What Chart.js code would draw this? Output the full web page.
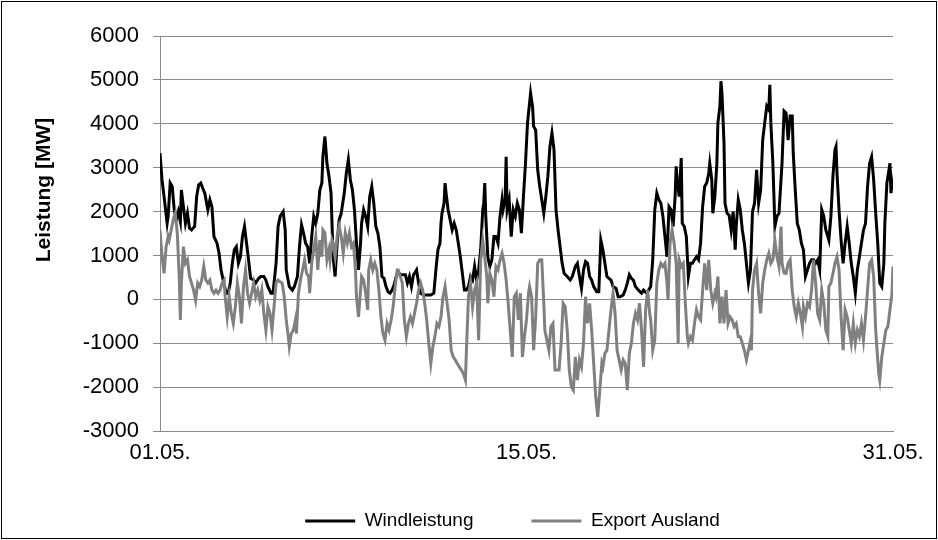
<!DOCTYPE html>
<html>
<head>
<meta charset="utf-8">
<script src="https://cdn.jsdelivr.net/npm/chart.js@4.4.1/dist/chart.umd.min.js"></script>
<style>
    html, body { margin: 0; padding: 0; background: #fff; }
    #wrap { width: 938px; height: 540px; }
</style>
</head>
<body>
<div id="wrap"><canvas id="windChart" width="938" height="540"></canvas></div>
<script>
// hours since 01.05. 00:00 and power in MW
const windHours = [0, 2, 4, 7, 8, 10, 12, 14, 16, 18, 20, 21, 23, 25, 27, 29, 31, 34, 36, 38, 40, 42, 44, 47, 49, 51, 53, 56, 58, 60,
    62, 65, 67, 69, 71, 73, 75, 77, 79, 81, 83, 85, 87, 89, 92, 94, 97, 99, 102, 104, 106, 109, 111, 114, 116, 118, 121, 123, 124, 127,
    130, 132, 135, 137, 139, 141, 143, 145, 147, 149, 151, 153, 155, 157, 159, 160, 162, 164, 166, 168, 170, 172, 174, 176, 178, 180, 181, 183, 185, 187,
    189, 191, 193, 195, 197, 198, 200, 202, 204, 206, 208, 210, 212, 214, 216, 218, 220, 222, 224, 226, 228, 230, 232, 234, 236, 239, 241, 243, 245, 247,
    249, 250, 252, 254, 256, 259, 261, 264, 266, 269, 271, 273, 275, 276, 277, 279, 280, 281, 283, 285, 287, 289, 291, 293, 295, 297, 299, 301, 303, 305,
    307, 309, 311, 313, 315, 317, 318, 319, 320, 322, 324, 326, 328, 330, 332, 334, 336, 337, 339, 340, 341, 343, 345, 347, 349, 351, 353, 355, 357, 359,
    361, 363, 364, 366, 367, 369, 371, 373, 375, 377, 379, 381, 383, 385, 387, 389, 391, 393, 395, 397, 400, 403, 405, 408, 410, 412, 414, 416, 418, 420,
    422, 424, 426, 429, 431, 433, 435, 437, 439, 441, 443, 445, 448, 450, 452, 455, 457, 459, 461, 463, 465, 467, 470, 473, 475, 478, 480, 482, 484, 486,
    488, 490, 492, 494, 496, 498, 500, 502, 504, 506, 507, 508, 510, 512, 513, 515, 517, 519, 521, 523, 525, 527, 529, 531, 533, 535, 537, 539, 540, 542,
    543, 545, 547, 548, 550, 551, 552, 554, 555, 557, 559, 561, 563, 565, 566, 568, 570, 572, 574, 576, 578, 580, 582, 584, 586, 588, 590, 592, 594, 596,
    598, 599, 600, 602, 604, 606, 608, 609, 611, 613, 615, 617, 619, 621, 622, 624, 626, 628, 630, 632, 634, 636, 638, 640, 642, 644, 646, 648, 650, 652,
    654, 656, 657, 659, 661, 663, 664, 665, 667, 669, 671, 673, 675, 677, 679, 681, 683, 685, 687, 689, 691, 693, 695, 697, 699, 701, 703, 705, 707, 709,
    711, 712, 714, 716, 717, 718, 719, 720];
const windMW = [3330, 2720, 2340, 1730, 1890, 2650, 2570, 2040, 1810, 2000, 1770, 2490, 2110, 1730, 1960, 1620, 1580, 1660, 2340, 2610, 2650, 2530, 2420, 2040, 2270, 2110, 1430, 1280, 1050, 670,
    440, 140, 140, 370, 820, 1130, 1200, 820, 970, 1430, 1660, 1280, 900, 480, 440, 370, 480, 520, 520, 440, 290, 140, 140, 820, 1660, 1890, 2000, 1580, 670, 290,
    210, 290, 520, 1200, 1700, 1510, 1280, 1200, 820, 1430, 1890, 1730, 1960, 2490, 2650, 3250, 3710, 3100, 2800, 2420, 970, 520, 1280, 1810, 1960, 2270, 2420, 2870, 3180, 2720,
    2490, 2040, 1280, 670, 1280, 1730, 2040, 1890, 1660, 2340, 2570, 2190, 1660, 1510, 1200, 520, 480, 290, 170, 140, 210, 330, 520, 630, 560, 560, 560, 370, 520, 290,
    560, 590, 670, 370, 140, 100, 100, 100, 100, 140, 670, 1130, 1280, 1730, 1960, 2190, 2650, 2420, 2040, 1810, 1580, 1730, 1580, 1280, 970, 590, 210, 210, 290, 520,
    440, 750, 440, 670, 1130, 2040, 2190, 2650, 1890, 970, 750, 900, 1430, 1430, 1280, 1890, 2270, 2040, 2270, 3250, 2040, 2270, 1430, 2040, 1890, 2190, 2040, 1510, 2340, 3100,
    4020, 4470, 4700, 4380, 3940, 3860, 2950, 2570, 2270, 1960, 2340, 2800, 3480, 3790, 3410, 2040, 1580, 1200, 820, 590, 520, 440, 520, 750, 820, 520, 250, 670, 860, 820,
    520, 440, 290, 170, 170, 1350, 1130, 820, 520, 480, 440, 290, 250, 60, 60, 100, 210, 370, 560, 480, 440, 290, 210, 140, 210, 140, 210, 290, 900, 2040,
    2420, 2270, 2190, 1890, 1430, 970, 2110, 2040, 1660, 2340, 3030, 2720, 2340, 3220, 1730, 1660, 1430, 520, 820, 820, 900, 970, 900, 1280, 2110, 2570, 2650, 2870, 3100, 2720,
    1960, 2340, 3100, 4020, 4400, 4970, 4700, 3560, 2190, 1960, 1920, 1580, 2000, 1130, 1660, 2270, 2040, 1580, 1280, 820, 370, 670, 2000, 2190, 2950, 2190, 2490, 3630, 4020, 4400,
    4320, 4890, 4020, 3100, 1660, 1890, 1960, 2340, 3100, 4290, 4240, 3630, 4180, 4180, 3330, 2490, 1730, 1580, 1280, 1130, 520, 670, 820, 900, 900, 820, 900, 670, 2040, 1890,
    1580, 1430, 1350, 1890, 2800, 3410, 3480, 2870, 2040, 1350, 820, 1280, 1660, 1280, 820, 520, 140, 670, 970, 1280, 1580, 1730, 2570, 3100, 3250, 2720, 1960, 1280, 370, 290,
    820, 1730, 2650, 2950, 3100, 2420, 2650, 2490];

const exportHours = [0, 2, 4, 6, 8, 9, 11, 13, 15, 17, 19, 20, 21, 23, 25, 27, 29, 31, 33, 35, 37, 39, 41, 43, 45, 47, 49, 51, 53, 55,
    57, 59, 61, 63, 64, 66, 68, 70, 72, 74, 76, 78, 80, 82, 84, 86, 88, 90, 92, 94, 96, 98, 100, 102, 104, 106, 108, 110, 112, 114,
    116, 118, 120, 122, 124, 126, 127, 129, 131, 133, 134, 136, 138, 140, 142, 144, 146, 147, 149, 151, 153, 155, 157, 159, 160, 162, 164, 166, 167, 169,
    170, 172, 174, 176, 178, 180, 182, 184, 186, 188, 190, 192, 193, 195, 197, 198, 200, 202, 204, 205, 207, 209, 211, 213, 215, 217, 219, 221, 223, 225,
    227, 229, 231, 233, 234, 236, 238, 240, 242, 244, 246, 248, 250, 252, 254, 256, 258, 260, 262, 264, 266, 268, 270, 272, 274, 276, 278, 280, 282, 284,
    286, 288, 290, 292, 294, 296, 298, 300, 301, 303, 305, 307, 309, 311, 313, 315, 317, 319, 321, 322, 324, 326, 328, 330, 332, 334, 336, 338, 340, 342,
    344, 346, 348, 350, 352, 354, 356, 358, 360, 362, 363, 365, 367, 369, 371, 373, 375, 377, 378, 380, 382, 384, 386, 388, 390, 392, 394, 396, 398, 400,
    402, 404, 406, 408, 410, 412, 414, 416, 418, 420, 422, 424, 426, 428, 430, 432, 434, 435, 437, 439, 441, 443, 445, 447, 449, 451, 453, 455, 457, 459,
    461, 463, 465, 467, 469, 471, 473, 475, 477, 479, 481, 482, 484, 486, 488, 490, 492, 494, 496, 498, 499, 501, 503, 505, 507, 509, 510, 512, 514, 516,
    518, 519, 521, 523, 525, 527, 529, 531, 533, 535, 537, 539, 541, 543, 545, 546, 548, 550, 552, 554, 556, 558, 560, 562, 564, 566, 568, 570, 572, 574,
    576, 578, 580, 581, 582, 584, 586, 588, 590, 592, 594, 596, 598, 600, 602, 604, 606, 608, 610, 611, 613, 615, 617, 619, 621, 623, 625, 627, 629, 631,
    632, 634, 636, 638, 640, 642, 644, 646, 648, 650, 652, 654, 656, 657, 659, 661, 663, 665, 667, 669, 671, 673, 675, 677, 679, 681, 683, 685, 687, 689,
    691, 693, 695, 697, 699, 701, 703, 705, 706, 707, 709, 711, 713, 715, 717, 719, 720];
const exportMW = [1580, 970, 590, 1200, 1430, 1350, 1580, 1810, 1960, 1510, 440, -470, 370, 1200, 820, 900, 520, 370, 210, -20, 370, 290, 440, 750, 440, 370, 440, 210, 140, 210,
    140, 210, 370, 440, 60, -400, 60, -320, -550, -170, 370, 60, -550, 290, 670, 140, -90, 140, 370, 60, 210, -20, 210, -320, -700, -170, -320, -700, -170, 370,
    440, 400, 370, 60, -470, -850, -1080, -780, -700, -470, -780, 140, 440, 670, 900, 590, 520, 140, 820, 1130, 1430, 670, 1350, 970, 1580, 1510, 900, 1130, 900, 1350,
    1280, 970, 1430, 1660, 1430, 1050, 1510, 1280, 1510, 1200, 1280, 670, 60, -400, 210, 520, 440, 140, -240, 670, 900, 670, 820, 670, 210, -400, -780, -930, -550, -700,
    -470, -170, 290, 670, 670, 520, 370, -470, -850, -550, -400, -550, -320, -90, 210, 370, 210, -90, -470, -1000, -1460, -1080, -850, -550, -620, -400, 60, 290, -90, -470,
    -1160, -1310, -1380, -1460, -1540, -1610, -1690, -1840, -1160, 60, 370, -170, 210, 370, -930, 900, 1350, 970, 520, -90, 590, 440, 60, 750, 670, 900, 1050, 820, 440, -90,
    -700, -1310, 60, 140, -470, 140, -1310, -850, -470, 140, 290, 60, -1160, -400, 820, 900, 900, -90, -700, -930, -1160, -620, -550, -1610, -1610, -1610, -1000, -90, -170, -700,
    -1610, -1990, -2070, -1310, -1840, -1380, -1540, -1000, 60, -550, -90, -700, -1460, -2220, -2680, -2070, -1460, -1540, -1230, -1160, -700, -240, 140, -320, -1160, -1380, -1610, -1380, -1460, -2070,
    -1230, -1000, -550, -320, -470, -90, -700, -1540, -240, 210, -320, -470, -1160, -930, 370, 670, 820, 750, 820, 370, -20, 1280, 1580, 1280, 820, -1000, 900, 750, 820, -90,
    -850, -1000, -850, -930, -550, -240, -400, -470, 210, 820, 210, 900, 210, -90, 140, 60, 520, -550, 60, -550, 210, -550, -400, -470, -620, -550, -850, -850, -1000, -1160,
    -1380, -1160, -930, -1160, 210, 670, 820, 140, -320, 370, 670, 900, 1050, 820, 900, 1350, 970, 750, 1660, 820, 600, 590, 820, 900, 210, -170, -400, -90, -320, -620,
    -170, -400, -90, -170, 210, 900, 370, -320, -470, 210, -90, -700, -850, 290, 370, 590, 820, 970, 670, -400, -1160, -240, -400, -700, -1000, -550, -1000, -700, -850, -550,
    -930, -400, 210, 820, 900, 520, -700, -1380, -1690, -1840, -1310, -1000, -700, -620, -240, 140, 750];

const xTickLabels = ['01.05.', '15.05.', '31.05.'];
const seriesNames = ['Windleistung', 'Export Ausland'];
const yAxisTitle = 'Leistung [MW]';

const gridGray = '#8a8a8a';
const fontFamily = '"Liberation Sans", Arial, sans-serif';

function toPoints(hours, values) {
    return hours.map((h, i) => ({ x: h, y: values[i] }));
}

// white background and thin frame round the whole picture
const framePlugin = {
    id: 'framePlugin',
    beforeDraw(chart) {
        const c = chart.ctx;
        c.save();
        c.fillStyle = '#ffffff';
        c.fillRect(0, 0, chart.width, chart.height);
        c.restore();
    },
    afterDraw(chart) {
        const c = chart.ctx;
        c.save();
        c.strokeStyle = '#000000';
        c.lineWidth = 1;
        c.strokeRect(1.5, 1.5, chart.width - 3, chart.height - 3);
        c.restore();
    }
};

// the axis title in the original sits above the middle of the axis
const yTitlePlugin = {
    id: 'yTitlePlugin',
    afterDraw(chart) {
        const c = chart.ctx;
        c.save();
        c.translate(44, 190);
        c.rotate(-Math.PI / 2);
        c.font = 'bold 21px ' + fontFamily;
        c.fillStyle = '#000000';
        c.textAlign = 'center';
        c.textBaseline = 'middle';
        c.fillText(yAxisTitle, 0, 0);
        c.restore();
    }
};

// legend sits right of the canvas centre and a bit higher than chart.js puts it
const legendShift = {
    id: 'legendShift',
    afterLayout(chart) {
        chart.legend.left += 61;
        chart.legend.right += 61;
        chart.legend.top -= 10.5;
        chart.legend.bottom -= 10.5;
    }
};

const ctx = document.getElementById('windChart').getContext('2d');

const windChart = new Chart(ctx, {
    type: 'line',
    data: {
        datasets: [
            {
                label: seriesNames[0],
                data: toPoints(windHours, windMW),
                borderColor: '#000000',
                backgroundColor: '#000000',
                borderWidth: 3,
                pointRadius: 0,
                tension: 0,
                order: 1
            },
            {
                label: seriesNames[1],
                data: toPoints(exportHours, exportMW),
                borderColor: '#808080',
                backgroundColor: '#808080',
                borderWidth: 3,
                pointRadius: 0,
                tension: 0,
                order: 0
            }
        ]
    },
    options: {
        responsive: false,
        animation: false,
        devicePixelRatio: 1,
        layout: {
            padding: { top: 36, left: 10, right: 45, bottom: -11 }
        },
        scales: {
            x: {
                type: 'linear',
                min: 0,
                max: 720,
                grid: { display: false, drawTicks: false },
                border: { display: true, color: gridGray },
                ticks: {
                    stepSize: 360,
                    padding: 9,
                    maxRotation: 0,
                    color: '#000000',
                    font: { family: fontFamily, size: 22 },
                    callback: (value) => xTickLabels[value / 360]
                },
                afterFit(scale) {
                    scale.height = 33;
                }
            },
            y: {
                min: -3000,
                max: 6000,
                grid: { color: gridGray, lineWidth: 1, tickLength: 7, tickColor: gridGray },
                border: { display: true, color: gridGray },
                ticks: {
                    stepSize: 1000,
                    padding: 14,
                    color: '#000000',
                    font: { family: fontFamily, size: 22 },
                    callback: (value) => String(value)
                },
                afterFit(scale) {
                    scale.width = 150;
                }
            }
        },
        plugins: {
            legend: {
                position: 'bottom',
                labels: {
                    boxWidth: 50,
                    boxHeight: 3,
                    padding: 58,
                    color: '#000000',
                    font: { family: fontFamily, size: 19 },
                    sort: (a, b) => a.datasetIndex - b.datasetIndex,
                    generateLabels(chart) {
                        const items = Chart.defaults.plugins.legend.labels.generateLabels(chart);
                        items.forEach(item => { item.lineWidth = 0; });
                        return items;
                    }
                }
            },
            tooltip: { enabled: false }
        }
    },
    plugins: [framePlugin, yTitlePlugin, legendShift]
});
</script>
</body>
</html>
